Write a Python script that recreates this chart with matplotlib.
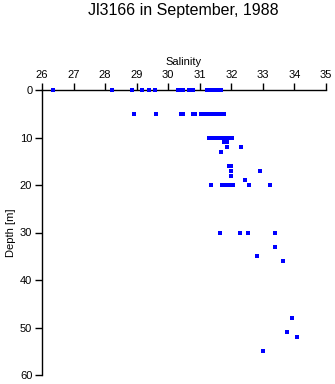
import matplotlib
matplotlib.use("Agg")
import matplotlib.pyplot as plt

# Salinity / depth samples
salinity = [
    26.36, 28.21, 28.86, 29.16, 29.40, 29.59, 30.31, 30.37, 30.43, 30.47,
    30.66, 30.79, 31.24, 31.32, 31.40, 31.47, 31.54, 31.60, 31.67,
    28.90, 29.60, 30.40, 30.48, 30.80, 30.86, 31.05, 31.15, 31.25, 31.35,
    31.45, 31.55, 31.65, 31.76,
    31.28, 31.36, 31.45, 31.55, 31.62, 31.72, 31.80, 31.90, 32.03,
    31.76, 31.86, 31.87, 32.31, 31.68,
    31.94, 32.00, 31.98, 32.91, 32.00, 32.44,
    31.37, 31.70, 31.84, 31.92, 32.00, 32.06, 32.56, 33.22,
    31.65, 32.28, 32.54, 33.39, 33.39, 32.82, 33.65,
    33.91, 33.77, 34.09, 33.01,
]
depth = [
    0, 0, 0, 0, 0, 0, 0, 0, 0, 0,
    0, 0, 0, 0, 0, 0, 0, 0, 0,
    5, 5, 5, 5, 5, 5, 5, 5, 5, 5,
    5, 5, 5, 5,
    10, 10, 10, 10, 10, 10, 10, 10, 10,
    11, 11, 12, 12, 13,
    16, 16, 17, 17, 18, 19,
    20, 20, 20, 20, 20, 20, 20, 20,
    30, 30, 30, 30, 33, 35, 36,
    48, 51, 52, 55,
]

x_ticks = list(range(26, 36))
y_ticks = [0, 10, 20, 30, 40, 50, 60]

plt.rcParams["font.family"] = ["Liberation Sans", "DejaVu Sans"]

fig = plt.figure(figsize=(3.35, 3.84), dpi=100)
ax = fig.add_axes([42 / 335, 1 - 375 / 384, 284 / 335, 285 / 384])

ax.plot(salinity, depth, linestyle="none", marker="s", markersize=2.3,
        color="#0000ff", markeredgewidth=0, clip_on=False, zorder=3)

ax.set_xlim(26, 35)
ax.set_ylim(60, 0)
ax.set_xticks(x_ticks)
ax.set_yticks(y_ticks)

ax.xaxis.tick_top()
ax.xaxis.set_label_position("top")
ax.set_xlabel("Salinity", fontsize=8, labelpad=4)
ax.set_ylabel("Depth [m]", fontsize=8, labelpad=3)

ax.tick_params(axis="both", direction="out", length=5, width=1,
               labelsize=8, pad=2)

for side in ["right", "bottom"]:
    ax.spines[side].set_visible(False)
for side in ["top", "left"]:
    ax.spines[side].set_linewidth(1)

fig.text(183 / 335, 1 - 10 / 384, "Jl3166 in September, 1988",
         ha="center", va="center", fontsize=11.5)

fig.savefig("out.png", dpi=100)
